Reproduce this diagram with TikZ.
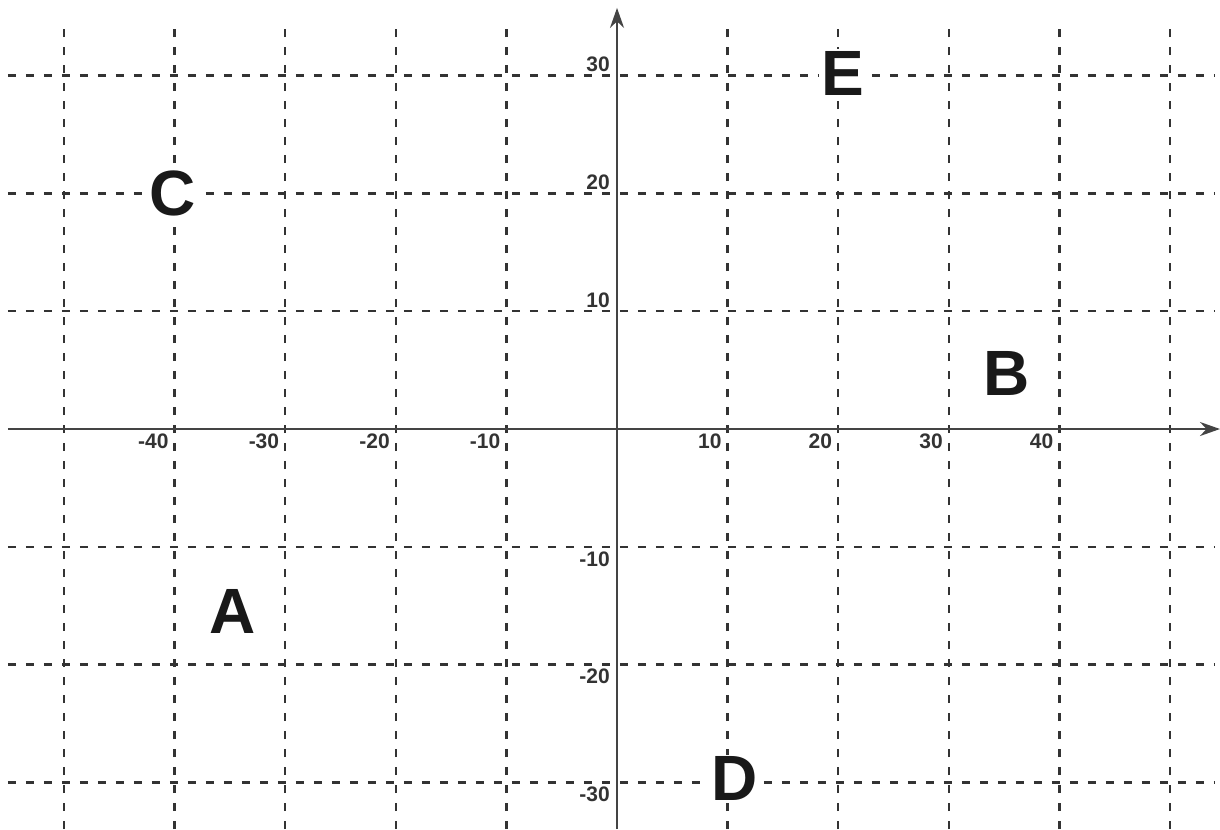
\documentclass[tikz,border=0pt]{standalone}
\usepackage{fontspec}
\setmainfont{Liberation Sans}
\usepackage{xcolor}
\usetikzlibrary{arrows.meta,positioning,calc}

\definecolor{gridgray}{HTML}{333333}
\definecolor{axisgray}{HTML}{444444}
\definecolor{labgray}{HTML}{333333}

\begin{document}
\begin{tikzpicture}[
  x=5.53pt, y=5.89pt,
  font=\bfseries,
  gridline/.style={draw=gridgray, line width=1.2pt, dash pattern=on 4pt off 5pt},
  axis/.style={draw=axisgray, line width=1.1pt, -{Stealth[length=10pt, width=7pt]}},
  tick/.style={font=\fontsize{10.5}{10.5}\selectfont\bfseries, text=labgray, inner sep=1.2pt},
  pt/.style={font=\fontsize{32}{32}\selectfont\bfseries, text=black!90, fill=white, inner sep=1pt}
]
\useasboundingbox (-55.79,-33.96) rectangle (54.52,36.42);

% grid
\foreach \x in {-50,-40,-30,-20,-10,10,20,30,40,50}
  \draw[gridline] (\x,-33.96) -- (\x,34.72);
\foreach \y in {-30,-20,-10,10,20,30}
  \draw[gridline] (-55.07,\y) -- (54.07,\y);

% axes
\coordinate (xl) at (-55.07,0);
\coordinate (xr) at (54.52,0);
\coordinate (yb) at (0,-33.96);
\coordinate (yt) at (0,35.75);
\draw[axis] (xl) -- (xr);
\draw[axis] (yb) -- (yt);

% tick labels
\foreach \x in {-40,-30,-20,-10,10,20,30,40}
  \node[tick, anchor=north east] (xt\x) at (\x-0.3,-0.2) {\x};
\foreach \y in {10,20,30}
  \node[tick, anchor=south east] (yt\y) at (-0.4,\y+0.05) {\y};
\foreach \y in {-10,-20,-30}
  \node[tick, anchor=north east] (yt\y) at (-0.4,\y-0.15) {\y};

% points
\node[pt] (ptE) at (20.4,30.2) {E};
\node[pt] (ptC) at (-40.2,20.0) {C};
\node[pt] (ptB) at (35.2,4.75) {B};
\node[pt] (ptA) at (-34.8,-15.45) {A};
\node[pt] (ptD) at (10.6,-29.7) {D};
\end{tikzpicture}
\end{document}
